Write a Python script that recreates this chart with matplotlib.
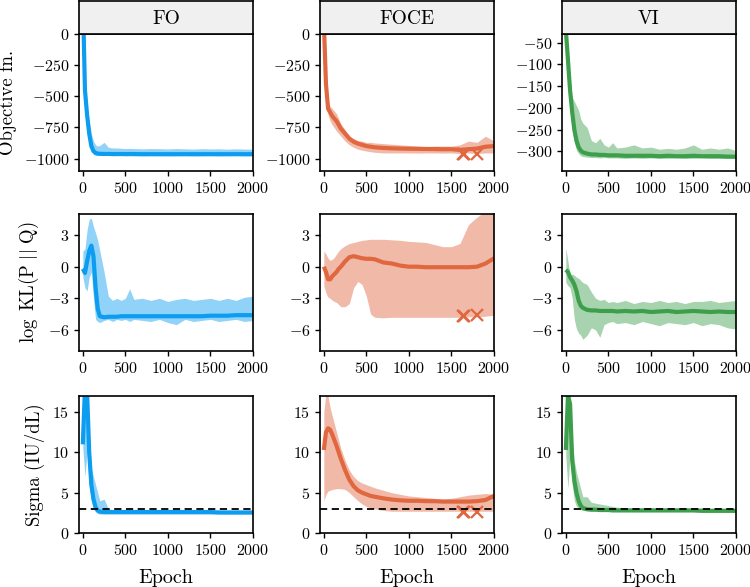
import matplotlib
matplotlib.use("Agg")
import matplotlib.pyplot as plt

plt.rcParams['font.family'] = 'serif'
plt.rcParams['font.serif'] = ['cmr10']
plt.rcParams['mathtext.fontset'] = 'cm'
plt.rcParams['axes.formatter.use_mathtext'] = True

# Shared epoch grid for all traces
epochs = [0, 25, 50, 75, 100, 125, 150, 175, 200, 250, 300, 350, 400, 450, 500,
          550, 600, 700, 800, 900, 1000, 1100, 1200, 1300, 1400, 1500, 1600,
          1700, 1800, 1900, 2000]

methods = ["FO", "FOCE", "VI"]

# ---- Objective function ----
fo_obj_mean = [300, -450, -650, -800, -900, -940, -955, -960, -962, -963, -963, -964, -964, -964, -964,
               -964, -964, -965, -965, -965, -965, -965, -965, -965, -965, -965, -965, -965, -965, -965, -965]
fo_obj_up = [400, -350, -580, -700, -800, -860, -890, -900, -895, -870, -910, -915, -915, -918, -920,
             -918, -920, -922, -920, -921, -923, -920, -922, -924, -921, -923, -922, -925, -922, -924, -925]
fo_obj_lo = [200, -500, -700, -850, -940, -965, -975, -975, -975, -976, -975, -977, -976, -975, -978,
             -976, -977, -978, -976, -977, -978, -977, -976, -978, -977, -976, -978, -977, -976, -978, -977]

foce_obj_mean = [100, -400, -600, -630, -660, -680, -700, -730, -760, -800, -840, -865, -880, -890, -900,
                 -905, -910, -915, -918, -920, -921, -922, -923, -924, -925, -925, -930, -925, -920, -905, -900]
foce_obj_up = [200, -350, -550, -580, -600, -620, -640, -680, -720, -770, -820, -840, -855, -860, -870,
               -870, -875, -880, -885, -890, -895, -900, -905, -900, -900, -900, -890, -860, -870, -820, -860]
foce_obj_lo = [0, -450, -650, -700, -730, -755, -780, -800, -820, -860, -890, -910, -925, -933, -940,
               -945, -950, -955, -955, -955, -955, -956, -955, -955, -956, -955, -960, -955, -960, -955, -955]

vi_obj_mean = [-20, -90, -160, -210, -250, -275, -290, -298, -302, -305, -307, -307, -308, -308, -309,
               -309, -309, -310, -310, -310, -310, -311, -310, -311, -311, -310, -311, -311, -311, -312, -312]
vi_obj_up = [0, -60, -130, -175, -185, -195, -205, -225, -235, -245, -275, -280, -270, -285, -290,
             -280, -292, -290, -285, -292, -290, -295, -293, -295, -292, -285, -295, -292, -295, -292, -298]
vi_obj_lo = [-60, -130, -200, -250, -280, -297, -305, -310, -312, -313, -314, -314, -315, -314, -315,
             -315, -315, -316, -315, -316, -315, -316, -316, -315, -316, -316, -315, -316, -316, -316, -316]

# ---- log KL(P || Q) ----
fo_kl_mean = [-0.2, -0.6, 0.5, 1.5, 2.0, 1.0, -2.0, -4.0, -4.7, -4.8, -4.75, -4.75, -4.75, -4.7, -4.7,
              -4.7, -4.7, -4.7, -4.7, -4.7, -4.7, -4.7, -4.7, -4.7, -4.7, -4.65, -4.65, -4.65, -4.6, -4.6, -4.6]
fo_kl_up = [1.5, 1.7, 3.5, 4.5, 4.6, 3.8, 3.2, 2.5, 1.5, -0.5, -2.8, -3.2, -3.0, -3.2, -3.0,
            -2.1, -3.1, -3.0, -3.2, -3.0, -3.3, -3.1, -3.0, -3.2, -3.1, -3.0, -3.2, -3.0, -3.2, -2.9, -2.8]
fo_kl_lo = [-1.0, -2.0, -2.3, -1.0, -0.5, -3.0, -5.0, -5.2, -5.3, -5.1, -5.0, -5.2, -5.0, -5.1, -5.0,
            -5.2, -5.0, -5.1, -5.2, -5.0, -5.3, -5.5, -5.0, -5.2, -5.1, -5.0, -5.2, -5.1, -5.0, -5.2, -5.1]

foce_kl_mean = [0.0, -0.5, -1.2, -1.2, -0.9, -0.7, -0.5, -0.2, 0.0, 0.5, 0.9, 1.0, 0.9, 0.8, 0.75,
                0.75, 0.7, 0.4, 0.3, 0.1, 0.0, 0.0, -0.05, -0.05, -0.05, -0.05, -0.05, -0.05, 0.0, 0.3, 0.8]
foce_kl_up = [1.5, 1.2, 0.8, 0.6, 0.7, 0.9, 1.2, 1.5, 1.7, 2.0, 2.2, 2.3, 2.4, 2.5, 2.55,
              2.6, 2.6, 2.6, 2.55, 2.5, 2.4, 2.35, 2.3, 2.1, 1.9, 1.9, 2.2, 4.0, 4.7, 5.3, 5.5]
foce_kl_lo = [-1.8, -2.5, -2.9, -3.0, -3.2, -3.3, -3.4, -3.6, -3.8, -3.8, -3.5, -2.0, -1.4, -1.7, -2.8,
              -4.5, -4.8, -4.85, -4.8, -4.8, -4.8, -4.8, -4.8, -4.8, -4.8, -4.8, -4.8, -4.75, -4.75, -4.7, -4.6]

vi_kl_mean = [-0.3, -0.5, -1.0, -1.3, -1.7, -2.3, -3.2, -3.7, -3.9, -4.1, -4.15, -4.15, -4.2, -4.2, -4.2,
              -4.2, -4.25, -4.2, -4.25, -4.2, -4.3, -4.25, -4.2, -4.3, -4.25, -4.2, -4.25, -4.3, -4.25, -4.3, -4.3]
vi_kl_up = [1.8, 0.5, -0.8, -0.7, -0.8, -1.0, -1.1, -1.3, -1.5, -1.7, -2.4, -3.0, -3.2, -3.1, -3.4,
            -3.3, -3.4, -3.2, -3.5, -3.3, -3.4, -3.2, -3.4, -3.3, -3.5, -3.3, -3.3, -3.2, -3.4, -3.3, -3.2]
vi_kl_lo = [-1.5, -1.8, -2.0, -3.0, -5.0, -5.9, -6.3, -6.5, -6.9, -6.5, -5.8, -6.0, -6.7, -5.5, -5.3,
            -5.2, -5.4, -5.3, -5.5, -5.2, -5.4, -5.6, -5.3, -5.4, -5.5, -5.3, -5.6, -5.4, -5.5, -5.8, -5.9]

# ---- Sigma (IU/dL) ----
fo_sig_mean = [11.0, 18.0, 17.5, 10.0, 6.0, 4.2, 3.2, 2.8, 2.65, 2.6, 2.6, 2.6, 2.6, 2.6, 2.6,
               2.6, 2.6, 2.6, 2.6, 2.6, 2.6, 2.6, 2.6, 2.6, 2.6, 2.6, 2.55, 2.55, 2.55, 2.55, 2.55]
fo_sig_up = [11.5, 19.0, 19.0, 12.0, 8.0, 7.0, 6.0, 5.0, 4.0, 4.2, 3.0, 2.9, 2.8, 2.8, 2.8,
             2.8, 2.8, 2.8, 2.8, 2.75, 2.8, 2.75, 2.8, 2.75, 2.75, 2.8, 2.75, 2.75, 2.75, 2.75, 2.75]
fo_sig_lo = [10.5, 7.0, 10.0, 6.0, 4.0, 3.0, 2.6, 2.4, 2.35, 2.35, 2.35, 2.35, 2.35, 2.35, 2.35,
             2.35, 2.35, 2.35, 2.35, 2.35, 2.35, 2.35, 2.35, 2.35, 2.35, 2.35, 2.35, 2.35, 2.35, 2.35, 2.35]

foce_sig_mean = [10.3, 12.5, 13.0, 12.8, 12.2, 11.5, 10.8, 10.0, 9.2, 7.8, 6.6, 5.8, 5.3, 5.0, 4.8,
                 4.6, 4.5, 4.3, 4.15, 4.05, 4.0, 4.0, 3.95, 3.95, 3.9, 3.9, 3.9, 3.9, 3.95, 4.1, 4.6]
foce_sig_up = [15.0, 17.5, 17.0, 15.5, 14.5, 13.5, 12.5, 11.5, 10.5, 9.0, 7.8, 7.0, 6.5, 6.2, 6.0,
               5.8, 5.6, 5.3, 5.0, 4.8, 4.6, 4.5, 4.4, 4.3, 4.2, 4.3, 4.5, 4.7, 4.8, 4.9, 4.8]
foce_sig_lo = [4.0, 4.8, 5.2, 5.3, 5.4, 5.45, 5.5, 5.5, 5.5, 5.4, 5.0, 4.5, 4.0, 3.6, 3.3,
               3.1, 3.0, 2.8, 2.7, 2.7, 2.7, 2.7, 2.7, 2.7, 2.7, 2.7, 2.7, 2.7, 2.7, 2.7, 2.7]

vi_sig_mean = [10.3, 17.0, 16.0, 9.0, 6.5, 5.0, 4.0, 3.4, 3.1, 2.95, 2.9, 2.9, 2.85, 2.85, 2.85,
               2.8, 2.8, 2.8, 2.8, 2.8, 2.8, 2.8, 2.8, 2.8, 2.8, 2.8, 2.75, 2.75, 2.75, 2.75, 2.75]
vi_sig_up = [12.0, 19.0, 19.0, 11.5, 9.0, 7.5, 6.5, 5.5, 4.5, 4.5, 3.8, 3.7, 3.6, 3.5, 3.4,
             3.3, 3.2, 3.15, 3.1, 3.1, 3.1, 3.1, 3.1, 3.1, 3.1, 3.05, 3.1, 3.05, 3.1, 3.05, 3.0]
vi_sig_lo = [9.5, 5.5, 10.0, 6.0, 4.0, 3.3, 3.0, 2.9, 2.8, 2.75, 2.7, 2.7, 2.7, 2.7, 2.7,
             2.7, 2.7, 2.7, 2.65, 2.65, 2.65, 2.65, 2.65, 2.65, 2.65, 2.65, 2.65, 2.65, 2.65, 2.65, 2.65]

# failed FOCE runs, marked with crosses
cross_epochs = [1630, 1650, 1805]
cross_obj = [-960, -960, -960]
cross_kl = [-4.65, -4.65, -4.6]
cross_sig = [2.55, 2.55, 2.6]

true_sigma = 3.0

colors = ["#0c9cf0", "#e0673f", "#3d9e4c"]

data = [
    [(fo_obj_mean, fo_obj_lo, fo_obj_up), (foce_obj_mean, foce_obj_lo, foce_obj_up), (vi_obj_mean, vi_obj_lo, vi_obj_up)],
    [(fo_kl_mean, fo_kl_lo, fo_kl_up), (foce_kl_mean, foce_kl_lo, foce_kl_up), (vi_kl_mean, vi_kl_lo, vi_kl_up)],
    [(fo_sig_mean, fo_sig_lo, fo_sig_up), (foce_sig_mean, foce_sig_lo, foce_sig_up), (vi_sig_mean, vi_sig_lo, vi_sig_up)],
]
crosses = [cross_obj, cross_kl, cross_sig]

ylims = [
    [(-1100, 0), (-1100, 0), (-345, -30)],
    [(-8, 5), (-8, 5), (-8, 5)],
    [(0, 17), (0, 17), (0, 17)],
]
yticks = [
    [[0, -250, -500, -750, -1000], [0, -250, -500, -750, -1000], [-50, -100, -150, -200, -250, -300]],
    [[3, 0, -3, -6]] * 3,
    [[0, 5, 10, 15]] * 3,
]
ylabels = ["Objective fn.", r"$\log\ \mathrm{KL}(\mathrm{P}\ ||\ \mathrm{Q})$", "Sigma (IU/dL)"]

W, H = 750, 587
fig = plt.figure(figsize=(W / 100, H / 100), dpi=100)

col_left = [79, 320, 562]
col_w = 174
row_top = [34, 214, 396]
row_h = 137

for r in range(3):
    for c in range(3):
        ax = fig.add_axes([col_left[c] / W, 1 - (row_top[r] + row_h) / H, col_w / W, row_h / H])
        mean, lo, up = data[r][c]
        ax.fill_between(epochs, lo, up, color=colors[c], alpha=0.45, lw=0)
        ax.plot(epochs, mean, color=colors[c], lw=3.0, solid_capstyle='butt')
        if c == 1:
            ax.plot(cross_epochs, crosses[r], 'x', color=colors[c], ms=8, mew=1.6)
        if r == 2:
            ax.axhline(true_sigma, color='black', ls='--', lw=1.3, dashes=(4, 2.5))
        ax.set_xlim(-45, 2000)
        ax.set_ylim(*ylims[r][c])
        ax.set_xticks([0, 500, 1000, 1500, 2000])
        ax.set_yticks(yticks[r][c])
        ax.tick_params(labelsize=11.5, width=1.0, length=3.5, direction='out')
        for s in ax.spines.values():
            s.set_linewidth(1.2)
        if c == 0:
            ax.set_ylabel(ylabels[r], fontsize=13.5, labelpad=5)
        if r == 2:
            ax.set_xlabel("Epoch", fontsize=14.5, labelpad=8)
        if r == 0:
            hx = fig.add_axes([col_left[c] / W, 1 - row_top[0] / H, col_w / W, 33 / H])
            hx.set_facecolor('#f0f0f0')
            hx.set_xticks([])
            hx.set_yticks([])
            for s in hx.spines.values():
                s.set_linewidth(1.2)
            hx.text(0.5, 0.45, methods[c], ha='center', va='center', fontsize=14, transform=hx.transAxes)

fig.savefig("out.png", dpi=100)
